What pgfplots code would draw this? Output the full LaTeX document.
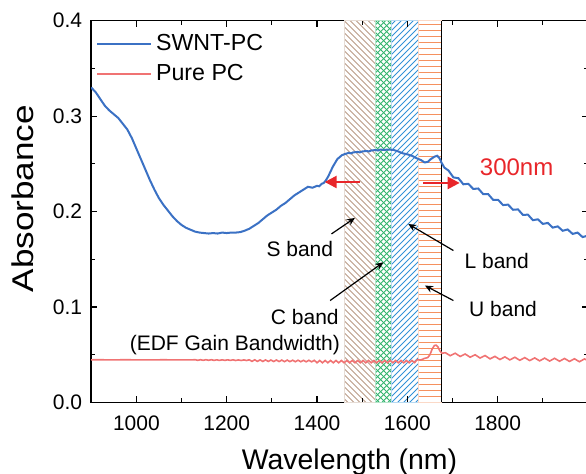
\documentclass[border=0pt]{standalone}
\usepackage{fontspec}
\setmainfont{Liberation Sans}
\usepackage{graphicx}
\usepackage{pgfplots}
\pgfplotsset{compat=1.18}
\usetikzlibrary{arrows.meta,calc}
\pgfdeclarelayer{background}
\pgfsetlayers{background,main}
\definecolor{swnt}{RGB}{59,113,196}
\definecolor{purepc}{RGB}{240,115,115}
\definecolor{sband}{RGB}{185,155,135}
\definecolor{cband}{RGB}{50,180,110}
\definecolor{lband}{RGB}{50,145,215}
\definecolor{uband}{RGB}{245,145,95}
\definecolor{arrred}{RGB}{232,38,42}
\begin{document}
\begin{tikzpicture}
\begin{axis}[name=ax, scale only axis, width=248.4pt, height=190.9pt,
  xmin=900, xmax=2000, ymin=0, ymax=0.4,
  xtick={1000,1200,1400,1600,1800}, minor xtick={1100,1300,1500,1700,1900},
  ytick={0,0.1,0.2,0.3,0.4}, minor ytick={0.05,0.15,0.25,0.35},
  tick align=inside, major tick length=3pt, minor tick length=2pt,
  axis line style={line width=0.7pt},
  every tick/.style={black, line width=0.6pt},
  /pgf/number format/assume math mode=true,
  /pgf/number format/1000 sep={},
  yticklabel style={/pgf/number format/fixed, /pgf/number format/fixed zerofill, /pgf/number format/precision=1, xshift=-1pt},
  xticklabel style={yshift=-3pt},
  ticklabel style={font=\fontsize{10.5}{12}\selectfont},
  xlabel={Wavelength (nm)},
  xlabel style={at={(axis description cs:0.52,-0.175)}, anchor=base, font=\fontsize{14.2}{17}\selectfont},
  ylabel={\scalebox{1.17}[1]{Absorbance}},
  ylabel style={at={(axis description cs:-0.137,0.534)}, anchor=center, font=\fontsize{15}{18}\selectfont},
  legend style={at={(axis description cs:0.005,0.98)}, anchor=north west, draw=none, fill=none,
    font=\fontsize{11.6}{13}\selectfont, row sep=1pt, inner sep=1pt},
  legend image code/.code={\draw[#1, line width=1pt] (0pt,0pt) -- (27pt,0pt);},
  legend cell align=left,
]
% band areas (outlines)
\addplot[forget plot, draw=sband!35, line width=0.3pt] coordinates {(1460,0.4) (1530,0.4)} \closedcycle;
\addplot[forget plot, draw=cband!35, line width=0.3pt] coordinates {(1530,0.4) (1565,0.4)} \closedcycle;
\addplot[forget plot, draw=lband!35, line width=0.3pt] coordinates {(1565,0.4) (1625,0.4)} \closedcycle;
\addplot[forget plot, draw=uband!35, line width=0.3pt] coordinates {(1625,0.4) (1675,0.4)} \closedcycle;
\addplot[forget plot, black, line width=0.6pt] coordinates {(1675,0) (1675,0.4)};
\coordinate (S1) at (axis cs:1460,0); \coordinate (S2) at (axis cs:1530,0.4);
\coordinate (C1) at (axis cs:1530,0); \coordinate (C2) at (axis cs:1565,0.4);
\coordinate (L1) at (axis cs:1565,0); \coordinate (L2) at (axis cs:1625,0.4);
\coordinate (U1) at (axis cs:1625,0); \coordinate (U2) at (axis cs:1675,0.4);

% SWNT-PC
\addplot[swnt, line width=1pt] coordinates {
(900,0.330) (910,0.325) (920,0.318) (930,0.311) (940,0.306) (950,0.302) (960,0.298)
(970,0.292) (980,0.286) (990,0.277) (1000,0.266) (1010,0.255) (1020,0.244) (1030,0.233)
(1040,0.223) (1050,0.214) (1060,0.207) (1070,0.201) (1080,0.195) (1090,0.190) (1100,0.186)
(1110,0.183) (1120,0.181) (1130,0.179) (1140,0.178) (1150,0.1775) (1160,0.177) (1170,0.1775)
(1180,0.177) (1190,0.178) (1200,0.1775) (1210,0.178) (1220,0.178) (1230,0.1785) (1240,0.180)
(1250,0.182) (1260,0.185) (1270,0.188) (1280,0.192) (1290,0.196) (1300,0.199) (1310,0.202)
(1320,0.206) (1330,0.209) (1340,0.213) (1350,0.217) (1360,0.220) (1370,0.223) (1380,0.226)
(1390,0.225) (1400,0.227) (1405,0.2265) (1410,0.229) (1415,0.230) (1420,0.233) (1425,0.237)
(1430,0.242) (1435,0.247) (1440,0.251) (1445,0.255) (1450,0.257) (1455,0.259) (1460,0.260)
(1470,0.2615) (1475,0.261) (1480,0.262) (1490,0.2625) (1495,0.262) (1500,0.263) (1510,0.2635)
(1515,0.263) (1520,0.264) (1530,0.2645) (1535,0.264) (1540,0.265) (1550,0.2645) (1555,0.265)
(1560,0.265) (1570,0.2645) (1580,0.263) (1590,0.261) (1600,0.260) (1610,0.2585) (1620,0.256)
(1630,0.254) (1638,0.2515) (1645,0.252) (1652,0.255) (1660,0.2575) (1666,0.2585) (1671,0.256)
(1676,0.251) (1682,0.246) (1691,0.2431) (1702,0.2358) (1713,0.2350) (1724,0.2286) (1735,0.2291)
(1746,0.2237) (1757,0.2242) (1768,0.2183) (1779,0.2183) (1790,0.2123) (1801,0.2123) (1812,0.2068)
(1823,0.2073) (1834,0.2019) (1845,0.2023) (1856,0.1965) (1867,0.1968) (1878,0.1910) (1889,0.1919)
(1900,0.1871) (1911,0.1881) (1922,0.1832) (1933,0.1845) (1944,0.1799) (1955,0.1813) (1966,0.1766)
(1977,0.1780) (1988,0.1733) (1999,0.1747)
};
\addlegendentry{SWNT-PC}

% Pure PC
\addplot[purepc, line width=0.8pt] coordinates {
(900,0.0447) (920,0.0448) (940,0.0446) (960,0.0447) (980,0.0448) (1000,0.0446) (1020,0.0447)
(1040,0.0446) (1060,0.0448) (1080,0.0446) (1100,0.0447) (1120,0.0446)
(1130,0.0448) (1136,0.0442) (1142,0.0448) (1148,0.0442) (1154,0.0448) (1160,0.0442) (1166,0.0448)
(1172,0.0441) (1178,0.0447) (1184,0.0441) (1190,0.0447) (1196,0.0441) (1202,0.0447) (1208,0.0441)
(1214,0.0447) (1220,0.0440) (1226,0.0446) (1232,0.0440) (1238,0.0446) (1244,0.0440) (1250,0.0447)
(1256,0.0431) (1262,0.0447) (1268,0.0431) (1274,0.0446) (1280,0.0430) (1286,0.0446) (1292,0.0430)
(1298,0.0445) (1304,0.0429) (1310,0.0445) (1316,0.0429) (1322,0.0444) (1328,0.0428) (1334,0.0444)
(1340,0.0428) (1346,0.0443) (1352,0.0427) (1358,0.0443) (1364,0.0427) (1370,0.0442) (1376,0.0426)
(1382,0.0442) (1388,0.0426) (1394,0.0442) (1400,0.0416) (1406,0.0440) (1412,0.0416) (1418,0.0440)
(1424,0.0416) (1430,0.0440) (1436,0.0416) (1442,0.0440) (1448,0.0416) (1454,0.0440) (1460,0.0416)
(1466,0.0440) (1472,0.0416) (1478,0.0440) (1484,0.0416) (1490,0.0440) (1496,0.0416) (1502,0.0440)
(1508,0.0416) (1514,0.0440) (1520,0.0416) (1526,0.0440) (1532,0.0416) (1538,0.0440) (1544,0.0416)
(1550,0.0440) (1556,0.0416) (1562,0.0440) (1568,0.0416) (1574,0.0440) (1580,0.0416) (1586,0.0440)
(1592,0.0416) (1598,0.0440) (1604,0.0416) (1610,0.0440) (1616,0.0418)
(1622,0.0448) (1630,0.0445) (1638,0.0462) (1645,0.0470) (1650,0.0500) (1655,0.0560) (1660,0.0598)
(1664,0.0600) (1668,0.0580) (1672,0.0540) (1677,0.0515) (1684,0.0522)
(1695,0.0490) (1706,0.0516) (1717,0.0482) (1728,0.0508) (1739,0.0474) (1750,0.0500) (1761,0.0466)
(1772,0.0492) (1783,0.0457) (1794,0.0483) (1805,0.0450) (1816,0.0478) (1827,0.0446) (1838,0.0474)
(1849,0.0442) (1860,0.0470) (1871,0.0439) (1882,0.0467) (1893,0.0436) (1904,0.0465) (1915,0.0434)
(1926,0.0463) (1937,0.0432) (1948,0.0461) (1959,0.0430) (1970,0.0458) (1981,0.0427) (1992,0.0456)
(2000,0.0440)
};
\addlegendentry{Pure PC}

% annotations
\node[font=\fontsize{10.5}{12}\selectfont] at (axis cs:1362,0.161) {S band};
\node[font=\fontsize{10.5}{12}\selectfont] at (axis cs:1373,0.0893) {C band};
\node[font=\fontsize{10.5}{12}\selectfont] at (axis cs:1798,0.1487) {L band};
\node[font=\fontsize{10.5}{12}\selectfont] at (axis cs:1812,0.0981) {U band};
\node[font=\fontsize{10.5}{12}\selectfont] at (axis cs:1218,0.0597) {(EDF Gain Bandwidth)};
\node[font=\fontsize{12}{14}\selectfont, text=arrred] at (axis cs:1842,0.246) {300nm};
\draw[black, line width=0.6pt, -{Stealth[length=4pt,width=3.5pt]}] (axis cs:1432,0.1766) -- (axis cs:1484,0.1934);
\draw[black, line width=0.6pt, -{Stealth[length=4pt,width=3.5pt]}] (axis cs:1429,0.1068) -- (axis cs:1547,0.1469);
\draw[black, line width=0.6pt, -{Stealth[length=4pt,width=3.5pt]}] (axis cs:1702,0.1592) -- (axis cs:1602,0.187);
\draw[black, line width=0.6pt, -{Stealth[length=4pt,width=3.5pt]}] (axis cs:1702,0.1068) -- (axis cs:1639,0.1225);
\draw[arrred, line width=1.2pt, -{Triangle[length=6pt,width=6pt]}] (axis cs:1495,0.231) -- (axis cs:1417,0.231);
\draw[arrred, line width=1.2pt, -{Triangle[length=6pt,width=6pt]}] (axis cs:1635,0.230) -- (axis cs:1716,0.230);
\end{axis}
\begin{pgfonlayer}{background}
\begin{scope}
\clip (S1) rectangle (S2);
\foreach \k in {-70,...,10}{\draw[sband, line width=0.45pt] ($(S1|-S2)+(\k*3pt,0)$) -- ++(210pt,-210pt);}
\end{scope}
\begin{scope}
\clip (C1) rectangle (C2);
\foreach \k in {-70,...,10}{\draw[cband, line width=0.45pt] ($(C1|-C2)+(\k*3pt,0)$) -- ++(210pt,-210pt);
  \draw[cband, line width=0.45pt] ($(C1)+(\k*3pt,0)$) -- ++(210pt,210pt);}
\end{scope}
\begin{scope}
\clip (L1) rectangle (L2);
\foreach \k in {-70,...,10}{\draw[lband, line width=0.45pt] ($(L1)+(\k*3pt,0)$) -- ++(210pt,210pt);}
\end{scope}
\begin{scope}
\clip (U1) rectangle (U2);
\foreach \k in {0,...,64}{\draw[uband, line width=0.5pt] ($(U1)+(-2pt,\k*3pt+3pt)$) -- ++(30pt,0);}
\end{scope}
\end{pgfonlayer}
\pgfresetboundingbox
\path[use as bounding box] ($(ax.south west)+(-45.6pt,-35.75pt)$) rectangle ($(ax.north east)+(-1pt,10.35pt)$);
\end{tikzpicture}
\end{document}
